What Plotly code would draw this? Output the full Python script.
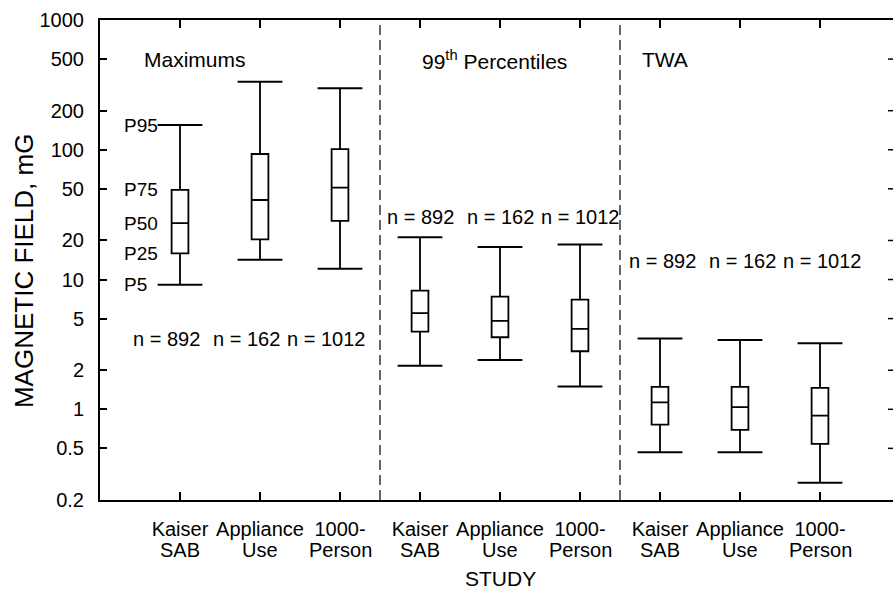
import plotly.graph_objects as go
import numpy as np

# ---- data ----
study_line1 = ["Kaiser", "Appliance", "1000-"] * 3
study_line2 = ["SAB", "Use", "Person"] * 3
positions = list(range(9))
p5 = [9.1, 14.2, 12.1, 2.17, 2.40, 1.50, 0.467, 0.467, 0.272]
p25 = [15.9, 20.4, 28.3, 3.97, 3.59, 2.80, 0.762, 0.694, 0.541]
p50 = [27.2, 41.0, 51.0, 5.5, 4.80, 4.16, 1.13, 1.04, 0.893]
p75 = [49.0, 92.8, 101.0, 8.2, 7.39, 7.0, 1.49, 1.49, 1.46]
p95 = [155.0, 335.0, 298.0, 21.2, 17.8, 18.6, 3.51, 3.42, 3.23]
n_labels = ["n = 892", "n = 162", "n = 1012"] * 3
section_titles = ["Maximums", "99<sup>th</sup> Percentiles", "TWA"]
pct_names = ["P95", "P75", "P50", "P25", "P5"]
y_ticks = [0.2, 0.5, 1, 2, 5, 10, 20, 50, 100, 200, 500, 1000]

FONT = "Arial, Liberation Sans, Helvetica, sans-serif"

fig = go.Figure()
fig.add_trace(go.Box(
    x=positions, q1=p25, median=p50, q3=p75,
    lowerfence=p5, upperfence=p95,
    width=0.21, whiskerwidth=0, boxpoints=False,
    fillcolor="white", line=dict(color="black", width=1.8),
    showlegend=False, hoverinfo="skip"))
# whisker caps
fig.add_trace(go.Scatter(
    x=positions + positions, y=p5 + p95, mode="markers",
    marker=dict(symbol="line-ew", size=32, line=dict(color="black", width=2)),
    showlegend=False, hoverinfo="skip"))

annotations = []
# percentile labels next to first box
for name, val in zip(pct_names, [p95[0], p75[0], p50[0], p25[0], p5[0]]):
    annotations.append(dict(x=-0.73, y=np.log10(val), xref="x", yref="y",
                            text=name, showarrow=False, xanchor="left",
                            yanchor="middle", font=dict(size=19)))
# section titles
for tx, xx in zip(section_titles, [-0.475, 3.0, 5.75]):
    annotations.append(dict(x=xx, y=0.917, xref="x", yref="paper", text=tx,
                            showarrow=False, xanchor="left", yanchor="middle",
                            font=dict(size=21)))
# n labels
n_y = [0.335, 0.590, 0.498]
n_dx = [-0.17, 0.0, 0.03]
for i, (pos, lab) in enumerate(zip(positions, n_labels)):
    g = i // 3
    annotations.append(dict(x=pos + n_dx[g], y=n_y[g], xref="x", yref="paper",
                            text=lab, showarrow=False, yanchor="middle",
                            font=dict(size=20)))
# second line of study labels
for pos, lab in zip(positions, study_line2):
    annotations.append(dict(x=pos, y=-0.104, xref="x", yref="paper", text=lab,
                            showarrow=False, yanchor="middle", font=dict(size=20)))
# axis titles
annotations.append(dict(x=0.5045, y=-0.1625, xref="paper", yref="paper", text="STUDY",
                        showarrow=False, yanchor="middle", font=dict(size=21)))
annotations.append(dict(x=-0.0958, y=0.477, xref="paper", yref="paper",
                        text="MAGNETIC FIELD, mG", textangle=-90, showarrow=False,
                        xanchor="center", yanchor="middle", font=dict(size=26)))

shapes = []
for xv in [2.5, 5.5]:
    shapes.append(dict(type="line", xref="x", yref="paper", x0=xv, x1=xv, y0=0, y1=1,
                       line=dict(color="#333333", width=1.5, dash="10px,5px")))
# right-side tick marks (axis cut off at the right edge)
for t in y_ticks[1:-1]:
    shapes.append(dict(type="line", xref="paper", yref="y", x0=1 - 5 / 793, x1=1,
                       y0=t, y1=t, line=dict(color="black", width=1.5)))

fig.update_layout(
    width=893, height=591,
    margin=dict(l=100, r=0, t=20, b=91),
    paper_bgcolor="white", plot_bgcolor="white",
    font=dict(family=FONT, size=20, color="black"),
    annotations=annotations, shapes=shapes,
    xaxis=dict(range=[-1.0, 8.9125], tickvals=positions, ticktext=study_line1,
               ticks="inside", ticklen=8, tickwidth=1.5, tickcolor="black",
               showline=True, linecolor="black", linewidth=2, mirror="ticks",
               showgrid=False, zeroline=False, ticklabelstandoff=10,
               tickfont=dict(size=20)),
    yaxis=dict(type="log", range=[np.log10(0.2), 3], tickvals=y_ticks,
               ticktext=[str(t) for t in y_ticks],
               ticks="inside", ticklen=7, tickwidth=1.5, tickcolor="black",
               showline=True, linecolor="black", linewidth=2,
               showgrid=False, zeroline=False, ticklabelstandoff=10,
               tickfont=dict(size=20)),
)

fig.write_html("out.html")
